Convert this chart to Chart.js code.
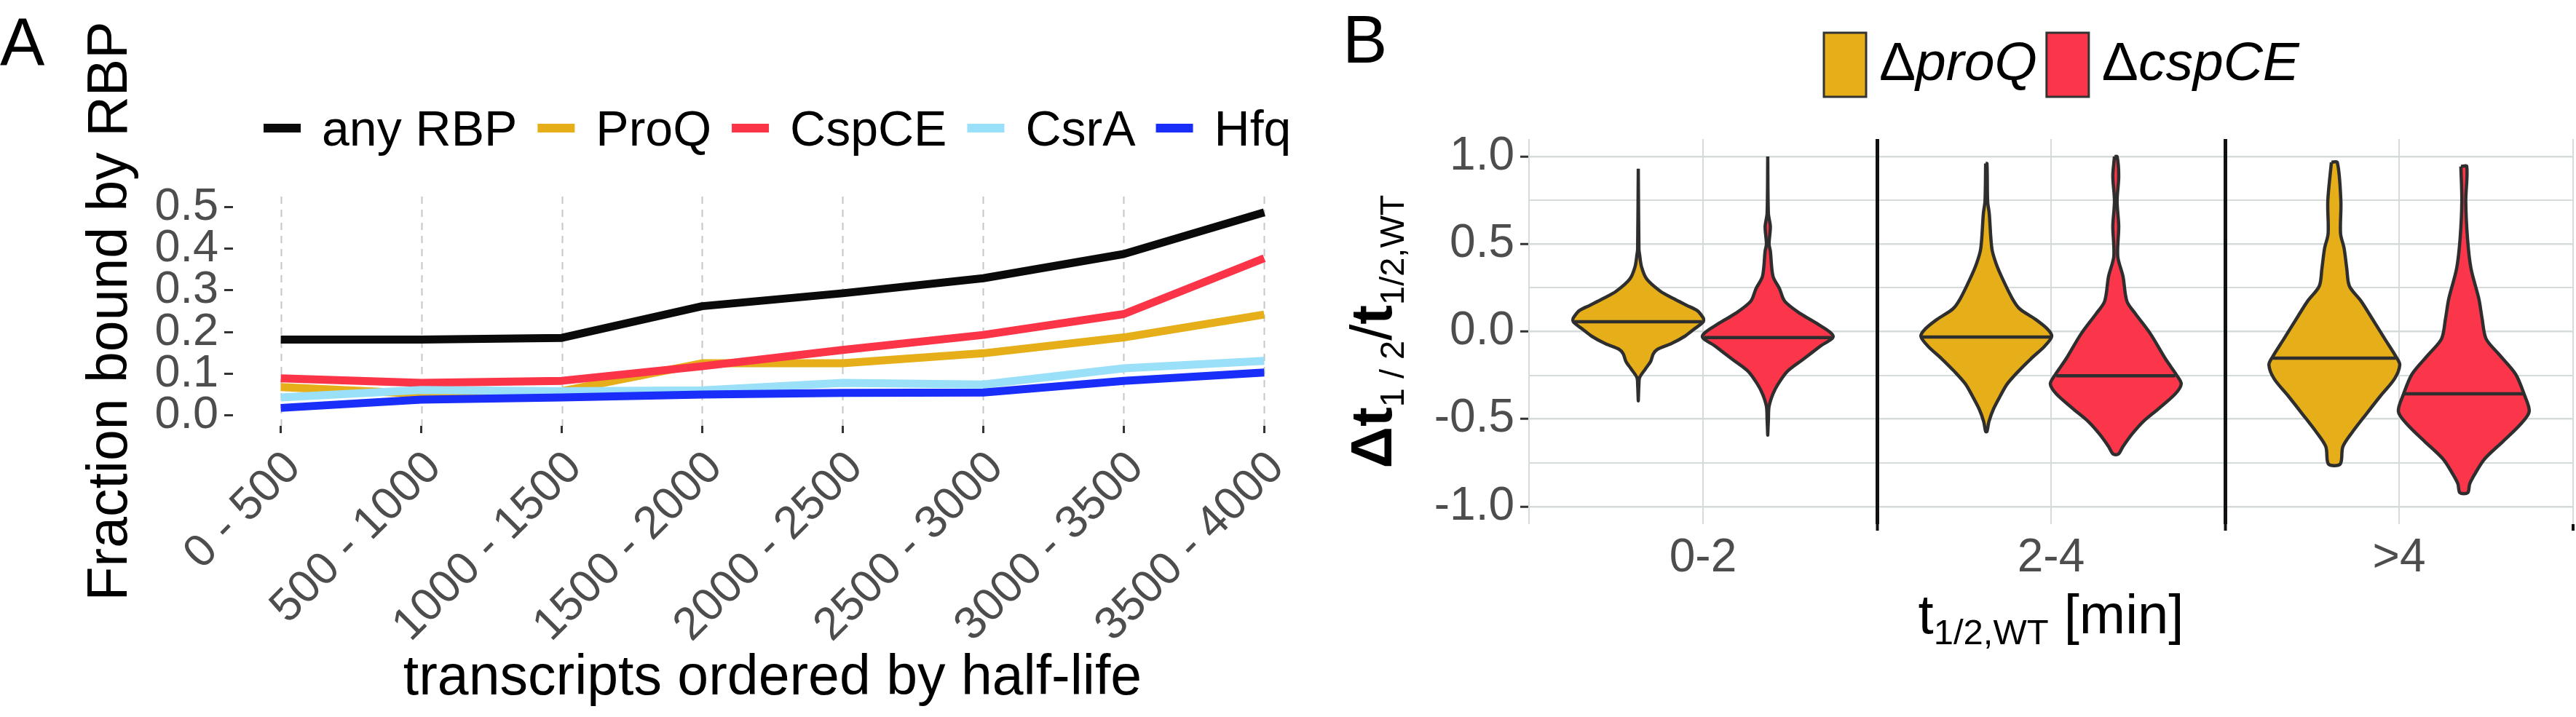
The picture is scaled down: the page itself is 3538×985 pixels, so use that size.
<!DOCTYPE html>
<html>
<head>
<meta charset="utf-8">
<script src="https://cdn.jsdelivr.net/npm/chart.js@4.4.1/dist/chart.umd.min.js"></script>
<style>
  html, body { margin: 0; padding: 0; background: #fff; }
  #wrap { position: relative; width: 3538px; height: 985px; overflow: hidden; background: #fff; }
  #chartA { position: absolute; left: 0; top: 0; }
  #chartB { position: absolute; left: 1800px; top: 0; }
</style>
</head>
<body>
<div id="wrap">
  <canvas id="chartA" width="1800" height="985"></canvas>
  <canvas id="chartB" width="1738" height="985"></canvas>
</div>
<script>
const FONT = "'Liberation Sans', Arimo, Helvetica, Arial, sans-serif";
const GREY_TXT = "#4d4d4d";

// ---------- panel A data ----------
const bins = ["0 - 500", "500 - 1000", "1000 - 1500", "1500 - 2000",
              "2000 - 2500", "2500 - 3000", "3000 - 3500", "3500 - 4000"];
const anyRBP = [0.182, 0.182, 0.186, 0.262, 0.293, 0.329, 0.387, 0.487];
const proQ   = [0.068, 0.052, 0.058, 0.125, 0.125, 0.149, 0.187, 0.242];
const cspCE  = [0.089, 0.078, 0.083, 0.118, 0.157, 0.193, 0.243, 0.377];
const csrA   = [0.043, 0.061, 0.058, 0.060, 0.078, 0.074, 0.113, 0.131];
const hfq    = [0.018, 0.038, 0.043, 0.050, 0.054, 0.055, 0.083, 0.103];
const yTicksA = [0, 0.1, 0.2, 0.3, 0.4, 0.5];

// ---------- panel B data ----------
const groups = ["0-2", "2-4", ">4"];
const strainsB = ["proQ", "cspCE"];
const yMajorB = [-1, -0.5, 0, 0.5, 1];
const yMinorB = [-0.75, -0.25, 0.25, 0.75];
// violin outlines: [value, relative half-width]
const violinProQ02 = [[0.93,0],[0.47,0.01],[0.44,0.02],[0.37,0.05],[0.30,0.13],[0.23,0.34],[0.19,0.53],
  [0.15,0.74],[0.12,0.9],[0.08,0.99],[0.065,1.0],[0.05,0.98],[0.016,0.86],[-0.027,0.71],[-0.07,0.5],
  [-0.10,0.3],[-0.127,0.23],[-0.17,0.19],[-0.213,0.11],[-0.263,0.02],[-0.30,0.01],[-0.396,0]];
const violinCspCE02 = [[1.0,0],[0.674,0.01],[0.60,0.04],[0.50,0.02],[0.46,0.04],[0.316,0.08],[0.245,0.18],
  [0.173,0.26],[0.102,0.5],[0.044,0.76],[-0.027,1.0],[-0.084,0.8],[-0.156,0.55],[-0.227,0.3],
  [-0.299,0.16],[-0.356,0.08],[-0.428,0.02],[-0.50,0.01],[-0.592,0]];
const violinProQ24 = [[0.96,0.01],[0.745,0.02],[0.674,0.045],[0.474,0.085],[0.388,0.15],[0.30,0.25],
  [0.187,0.4],[0.13,0.51],[0.073,0.74],[0.016,0.93],[-0.027,1.0],[-0.084,0.89],[-0.156,0.68],
  [-0.227,0.49],[-0.299,0.32],[-0.37,0.21],[-0.442,0.11],[-0.514,0.04],[-0.571,0.01]];
const violinCspCE24 = [[1.0,0.02],[0.888,0.045],[0.745,0.02],[0.602,0.045],[0.43,0.03],[0.316,0.11],
  [0.173,0.17],[0.102,0.3],[-0.013,0.53],[-0.156,0.76],[-0.249,0.93],[-0.299,1.0],[-0.356,0.91],
  [-0.442,0.65],[-0.514,0.42],[-0.585,0.25],[-0.657,0.11],[-0.70,0.04]];
const violinProQ4 = [[0.967,0.045],[0.745,0.1],[0.56,0.095],[0.474,0.15],[0.36,0.19],[0.26,0.23],
  [0.173,0.41],[0.073,0.58],[-0.041,0.77],[-0.142,0.94],[-0.19,1.0],[-0.27,0.92],[-0.37,0.7],
  [-0.47,0.49],[-0.572,0.28],[-0.658,0.13],[-0.757,0.09]];
const violinCspCE4 = [[0.943,0.045],[0.745,0.03],[0.53,0.057],[0.36,0.11],[0.187,0.23],[0.073,0.28],
  [-0.041,0.34],[-0.127,0.53],[-0.242,0.79],[-0.356,0.92],[-0.456,1.0],[-0.528,0.87],[-0.627,0.6],
  [-0.727,0.32],[-0.813,0.17],[-0.87,0.09],[-0.921,0.06]];
const medianProQ = [0.056, -0.031, -0.152];
const medianCspCE = [-0.034, -0.253, -0.356];
const medWidthProQ = [0.97, 0.98, 0.94];
const medWidthCspCE = [0.97, 0.91, 0.91];

// ---------- panel A ----------
const seriesA = [
  { label: "any RBP", values: anyRBP, color: "#0a0a0a" },
  { label: "ProQ",    values: proQ,   color: "#e6ae19" },
  { label: "CspCE",   values: cspCE,  color: "#fb3448" },
  { label: "CsrA",    values: csrA,   color: "#99e0f8" },
  { label: "Hfq",     values: hfq,    color: "#1a2efa" }
];

const decorA = {
  id: "decorA",
  beforeDatasetsDraw(chart) {
    // dashed vertical grid lines at each bin
    const c = chart.ctx;
    const area = chart.chartArea;
    const xs = chart.scales.x;
    c.save();
    c.strokeStyle = "#c4c8c8";
    c.lineWidth = 2;
    c.setLineDash([10, 8]);
    bins.forEach((b, i) => {
      const px = Math.round(xs.getPixelForValue(i)) + 0.5;
      c.beginPath();
      c.moveTo(px, area.top);
      c.lineTo(px, area.bottom);
      c.stroke();
    });
    c.restore();
  },
  afterDraw(chart) {
    const c = chart.ctx;
    const area = chart.chartArea;
    const xs = chart.scales.x;
    c.save();
    c.fillStyle = "#000";
    c.textBaseline = "alphabetic";
    c.font = "92px " + FONT;
    c.fillText("A", 0, 90);

    // legend
    c.font = "68px " + FONT;
    let x = 362;
    chart.data.datasets.forEach(ds => {
      c.strokeStyle = ds.borderColor;
      c.lineWidth = 12;
      c.beginPath();
      c.moveTo(x, 176);
      c.lineTo(x + 51, 176);
      c.stroke();
      x += 51 + 29;
      c.fillStyle = "#000";
      c.fillText(ds.label, x, 200);
      x += c.measureText(ds.label).width + 28;
    });

    // rotated category labels (45 deg)
    c.fillStyle = GREY_TXT;
    c.font = "63px " + FONT;
    c.textAlign = "right";
    bins.forEach((b, i) => {
      c.save();
      c.translate(xs.getPixelForValue(i) + 30, area.bottom + 60);
      c.rotate(-Math.PI / 4);
      c.fillText(b, 0, 0);
      c.restore();
    });

    // axis titles
    c.fillStyle = "#000";
    c.font = "77px " + FONT;
    c.textAlign = "center";
    const cx = (xs.getPixelForValue(0) + xs.getPixelForValue(bins.length - 1)) / 2;
    c.fillText("transcripts ordered by half-life", cx, 954);
    c.translate(174, (area.top + area.bottom) / 2);
    c.rotate(-Math.PI / 2);
    c.fillText("Fraction bound by RBP", 0, 0);
    c.restore();
  }
};

new Chart(document.getElementById("chartA"), {
  type: "line",
  data: {
    datasets: seriesA.map((s, i) => ({
      label: s.label,
      data: s.values.map((v, j) => ({ x: j, y: v })),
      borderColor: s.color,
      backgroundColor: s.color,
      borderWidth: 11,
      pointRadius: 0,
      tension: 0,
      fill: false,
      borderJoinStyle: "round",
      order: seriesA.length - i
    }))
  },
  options: {
    responsive: false,
    animation: false,
    events: [],
    layout: { padding: { top: 270, left: 0, right: 0, bottom: 0 } },
    plugins: { legend: { display: false }, tooltip: { enabled: false } },
    scales: {
      x: {
        type: "linear",
        min: -0.34,
        max: 7.33,
        afterBuildTicks: s => { s.ticks = bins.map((b, i) => ({ value: i })); },
        afterFit: s => { s.height = 400; },
        border: { display: false },
        grid: {
          drawOnChartArea: false,
          tickColor: "#333",
          tickWidth: 3,
          tickLength: 10
        },
        ticks: { display: false }
      },
      y: {
        min: -0.025,
        max: 0.525,
        afterBuildTicks: s => { s.ticks = yTicksA.map(v => ({ value: v })); },
        afterFit: s => { s.width = 320; },
        border: { display: false },
        grid: { drawOnChartArea: false, tickColor: "#333", tickWidth: 3, tickLength: 12 },
        ticks: {
          autoSkip: false,
          padding: 8,
          color: GREY_TXT,
          font: { family: FONT, size: 63 },
          callback: v => v.toFixed(1)
        }
      }
    }
  },
  plugins: [decorA]
});

// ---------- panel B ----------
const OFFSET = 0.186;
const HALF = 0.188;
const fillsB = ["#e6af19", "#fb354a"];
const profilesB = [
  [violinProQ02, violinProQ24, violinProQ4],
  [violinCspCE02, violinCspCE24, violinCspCE4]
];
const mediansB = [medianProQ, medianCspCE];
const medWidthsB = [medWidthProQ, medWidthCspCE];

function violinPoints(profile, cx) {
  const left = profile.map(([v, w]) => ({ x: cx - w * HALF, y: v }));
  const right = profile.slice().reverse().map(([v, w]) => ({ x: cx + w * HALF, y: v }));
  return left.concat(right, [left[0]]);
}

const datasetsB = [];
strainsB.forEach((st, s) => {
  groups.forEach((g, gi) => {
    const cx = gi + 0.5 + (s === 0 ? -OFFSET : OFFSET);
    datasetsB.push({
      label: st + " " + g,
      data: violinPoints(profilesB[s][gi], cx),
      showLine: true,
      fill: "shape",
      backgroundColor: fillsB[s],
      borderColor: "#2e2e2e",
      borderWidth: 4.5,
      borderJoinStyle: "round",
      tension: 0.3,
      pointRadius: 0,
      order: 2
    });
    const m = mediansB[s][gi];
    const mw = medWidthsB[s][gi] * HALF;
    datasetsB.push({
      label: st + " " + g + " median",
      data: [{ x: cx - mw, y: m }, { x: cx + mw, y: m }],
      showLine: true,
      fill: false,
      borderColor: "#2e2e2e",
      borderWidth: 4.5,
      pointRadius: 0,
      order: 1
    });
  });
});

function drawParts(c, parts, x, y) {
  parts.forEach(p => {
    c.font = p.style + " " + p.size + "px " + FONT;
    c.fillText(p.text, x, y + p.shift);
    x += c.measureText(p.text).width;
  });
}
function partsWidth(c, parts) {
  let w = 0;
  parts.forEach(p => {
    c.font = p.style + " " + p.size + "px " + FONT;
    w += c.measureText(p.text).width;
  });
  return w;
}

const decorB = {
  id: "decorB",
  afterDraw(chart) {
    const c = chart.ctx;
    const area = chart.chartArea;
    const xs = chart.scales.x;
    c.save();
    c.textBaseline = "alphabetic";
    c.fillStyle = "#000";
    c.font = "92px " + FONT;
    c.fillText("B", 44, 86);

    // legend
    let x = 705;
    strainsB.forEach((st, i) => {
      c.fillStyle = fillsB[i];
      c.fillRect(x, 45, 58, 88);
      c.strokeStyle = "#333";
      c.lineWidth = 3;
      c.strokeRect(x, 45, 58, 88);
      x += 58 + 18;
      c.fillStyle = "#000";
      c.font = "75px " + FONT;
      c.fillText("\u0394", x, 110);
      x += c.measureText("\u0394").width;
      c.font = "italic 75px " + FONT;
      c.fillText(st, x, 110);
      x += c.measureText(st).width + 13;
    });

    // x title
    const xt = [
      { text: "t", size: 76, style: "", shift: 0 },
      { text: "1/2,WT", size: 49, style: "", shift: 15 },
      { text: " [min]", size: 76, style: "", shift: 0 }
    ];
    const cx = xs.getPixelForValue(1.5);
    drawParts(c, xt, cx - partsWidth(c, xt) / 2, 870);

    // y title
    const yt = [
      { text: "\u0394t", size: 80, style: "bold", shift: 0 },
      { text: "1 / 2", size: 47, style: "", shift: 17 },
      { text: "/", size: 80, style: "", shift: 0 },
      { text: "t", size: 80, style: "bold", shift: 0 },
      { text: "1/2,WT", size: 47, style: "", shift: 17 }
    ];
    c.translate(111, (area.top + area.bottom) / 2);
    c.rotate(-Math.PI / 2);
    drawParts(c, yt, -partsWidth(c, yt) / 2, 0);
    c.restore();
  }
};

const isBlack = v => Math.abs(v - 1) < 1e-6 || Math.abs(v - 2) < 1e-6;
const isMajorB = v => yMajorB.some(m => Math.abs(m - v) < 1e-6);

new Chart(document.getElementById("chartB"), {
  type: "scatter",
  data: { datasets: datasetsB },
  options: {
    responsive: false,
    animation: false,
    events: [],
    layout: { padding: { top: 191, left: 0, right: 4, bottom: 0 } },
    plugins: { legend: { display: false }, tooltip: { enabled: false } },
    scales: {
      x: {
        type: "linear",
        min: 0,
        max: 3,
        afterBuildTicks: s => { s.ticks = [0, 0.5, 1, 1.5, 2, 2.5, 3].map(v => ({ value: v })); },
        afterFit: s => { s.height = 265; },
        border: { display: false },
        grid: {
          z: -1,
          color: c => (c.tick && isBlack(c.tick.value)) ? "#111" : "#d5dbdb",
          lineWidth: c => (c.tick && isBlack(c.tick.value)) ? 5 : 2,
          tickColor: c => (c.tick && c.tick.value >= 1 && Math.abs(c.tick.value % 1) < 1e-6) ? "#111" : "rgba(0,0,0,0)",
          tickWidth: 4,
          tickLength: 9
        },
        ticks: {
          autoSkip: false,
          maxRotation: 0,
          padding: 0,
          color: GREY_TXT,
          font: { family: FONT, size: 64 },
          callback: v => (Math.abs(v % 1 - 0.5) < 1e-6) ? groups[Math.floor(v)] : ""
        }
      },
      y: {
        min: -1.1,
        max: 1.1,
        afterBuildTicks: s => {
          s.ticks = yMajorB.concat(yMinorB).sort((a, b) => a - b).map(v => ({ value: v }));
        },
        afterFit: s => { s.width = 300; },
        border: { display: false },
        grid: {
          z: -2,
          color: "#d5dbdb",
          lineWidth: c => (c.tick && isMajorB(c.tick.value)) ? 2.5 : 2,
          tickColor: c => (c.tick && isMajorB(c.tick.value)) ? "#333" : "rgba(0,0,0,0)",
          tickWidth: 3,
          tickLength: 12
        },
        ticks: {
          autoSkip: false,
          padding: 8,
          color: GREY_TXT,
          font: { family: FONT, size: 64 },
          callback: v => isMajorB(v) ? v.toFixed(1) : ""
        }
      }
    }
  },
  plugins: [decorB]
});
</script>
</body>
</html>
